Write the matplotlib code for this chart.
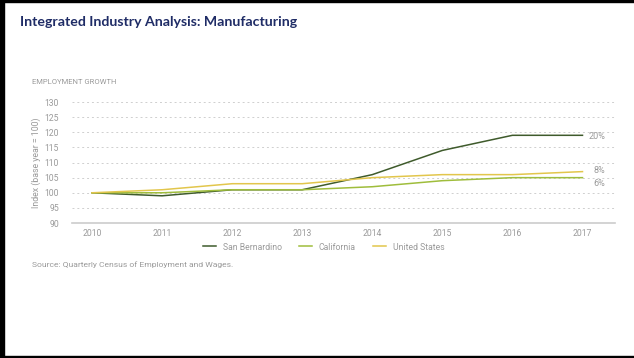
import matplotlib
matplotlib.use("Agg")
import matplotlib.pyplot as plt
from matplotlib.patches import Rectangle

# data
years = [2010, 2011, 2012, 2013, 2014, 2015, 2016, 2017]
san_bernardino = [100, 99, 101, 101, 106, 114, 119, 119]
california = [100, 100, 101, 101, 102, 104, 105, 105]
united_states = [100, 101, 103, 103, 105, 106, 106, 107]
end_labels = ["20%", "6%", "8%"]
y_ticks = [90, 95, 100, 105, 110, 115, 120, 125, 130]

series = [
    ("San Bernardino", san_bernardino, "#3f5b2c"),
    ("California", california, "#9fbd3c"),
    ("United States", united_states, "#e2c64c"),
]
grey = "#9a9a9a"

plt.rcParams["font.family"] = ["Roboto", "DejaVu Sans"]

fig = plt.figure(figsize=(6.34, 3.58), dpi=100)
ax = fig.add_axes([0.1136, 0.377, 0.856, 0.338])

for name, vals, col in series:
    ax.plot(years, vals, color=col, lw=1.1, label=name)

# end-of-line labels, right aligned in a column past the last point
offsets = {"San Bernardino": -0.5, "California": -4, "United States": 1}
for (name, vals, col), lab in zip(series, end_labels):
    ax.annotate(lab, (years[-1], vals[-1]), xytext=(16.6, offsets[name]),
                textcoords="offset points", va="center", ha="right",
                fontsize=6.5, color=grey)

ax.set_xlim(2009.715, 2017.46)
ax.set_ylim(90, 130)
ax.set_xticks(years)
ax.set_yticks(y_ticks)
ax.tick_params(length=0, labelsize=6.2, colors=grey)
ax.tick_params(axis="y", pad=9.4)
ax.tick_params(axis="x", pad=4.5)
ax.grid(axis="y", color="#cfcfcf", ls=(0, (2, 3)), lw=0.7)
ax.grid(axis="x", visible=False)
for s in ["top", "right", "left"]:
    ax.spines[s].set_visible(False)
ax.spines["bottom"].set_color("#cccccc")
ax.spines["bottom"].set_linewidth(1.2)
ax.set_ylabel("Index (base year = 100)", fontsize=6.3, color=grey, labelpad=2.5)

fig.legend(*ax.get_legend_handles_labels(), loc="center left",
           bbox_to_anchor=(203 / 634, 1 - 247 / 358), ncol=3, frameon=False,
           fontsize=6.2, labelcolor=grey, handlelength=1.5, columnspacing=2.0,
           handletextpad=0.8, borderpad=0, borderaxespad=0)

fig.text(0.032, 0.938, "Integrated Industry Analysis: Manufacturing", fontsize=10.2,
         fontweight="bold", color="#1f2c66", family=["Lato", "DejaVu Sans"],
         va="center", ha="left")
fig.text(0.05, 0.771, "EMPLOYMENT GROWTH", fontsize=5.5, color=grey, va="center",
         ha="left", stretch="condensed")
fig.text(0.05, 0.26, "Source: Quarterly Census of Employment and Wages.", fontsize=6.1,
         color=grey, va="center", ha="left")

# slide frame
fig.patches.append(Rectangle((0, 0), 0.006, 1, transform=fig.transFigure,
                             color="black", zorder=10))
fig.patches.append(Rectangle((0, 0.994), 1, 0.006, transform=fig.transFigure,
                             color="black", zorder=10))
fig.patches.append(Rectangle((0, 0), 1, 0.006, transform=fig.transFigure,
                             color="black", zorder=10))

fig.savefig("out.png", dpi=100)
